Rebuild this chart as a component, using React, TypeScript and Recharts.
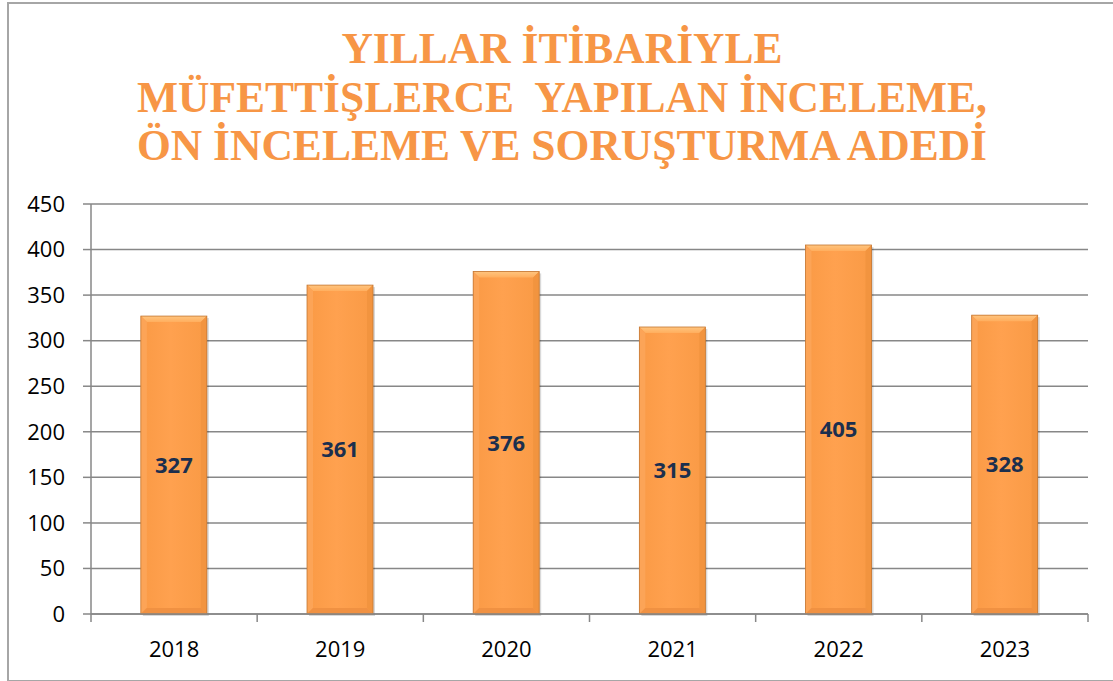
import React from "react";
import { BarChart, Bar, XAxis, YAxis, CartesianGrid, LabelList } from "recharts";

const years = ["2018", "2019", "2020", "2021", "2022", "2023"];
const counts = [327, 361, 376, 315, 405, 328];
const yTicks = [0, 50, 100, 150, 200, 250, 300, 350, 400, 450];
const titleLines = [
  "YILLAR İTİBARİYLE",
  "MÜFETTİŞLERCE  YAPILAN İNCELEME,",
  "ÖN İNCELEME VE SORUŞTURMA ADEDİ",
];

const data = years.map((y, i) => ({ year: y, value: counts[i] }));

const W = 1113;
const H = 681;
const PLOT_LEFT = 91;
const PLOT_RIGHT = 25;
const STEP = (W - PLOT_LEFT - PLOT_RIGHT) / years.length;
const TICK_FONT = "'Open Sans', 'Noto Sans', sans-serif";

function BevelBar(props: any) {
  const { x, y, width, height } = props;
  if (!height || height <= 0) return null;
  const b = 6;
  return (
    <g>
      <rect x={x + 2} y={y + 2} width={width} height={height} fill="#000" opacity={0.15} />
      <rect x={x} y={y} width={width} height={height} fill="url(#barBody)" />
      {/* top bevel */}
      <polygon
        points={`${x},${y} ${x + width},${y} ${x + width - b},${y + b} ${x + b},${y + b}`}
        fill="url(#barTop)"
      />
      {/* left bevel */}
      <polygon
        points={`${x},${y} ${x + b},${y + b} ${x + b},${y + height - b} ${x},${y + height}`}
        fill="#FCA457"
      />
      {/* right bevel */}
      <polygon
        points={`${x + width},${y} ${x + width - b},${y + b} ${x + width - b},${y + height - b} ${x + width},${y + height}`}
        fill="#F2943F"
      />
      {/* bottom bevel */}
      <polygon
        points={`${x},${y + height} ${x + b},${y + height - b} ${x + width - b},${y + height - b} ${x + width},${y + height}`}
        fill="#F09142"
      />
      <rect x={x} y={y} width={width} height={height} fill="none" stroke="#C47733" strokeWidth={0.8} />
    </g>
  );
}

function YearTick(props: any) {
  const { x, y, payload, index } = props;
  const left = x - STEP / 2;
  return (
    <g>
      <line x1={left} y1={y} x2={left} y2={y + 8} stroke="#878787" strokeWidth={1.5} />
      {index === years.length - 1 && (
        <line x1={x + STEP / 2} y1={y} x2={x + STEP / 2} y2={y + 8} stroke="#878787" strokeWidth={1.5} />
      )}
      <text x={x} y={y + 43} textAnchor="middle" fill="#000" fontSize={22} fontFamily={TICK_FONT}>
        {payload.value}
      </text>
    </g>
  );
}

export default function App() {
  return (
    <div style={{ position: "absolute", left: 0, top: 0, width: W, height: H, background: "#fff", overflow: "hidden" }}>
      <div
        style={{
          position: "absolute",
          left: 7,
          top: 2,
          width: 1120,
          height: 676,
          border: "2px solid #a6a6a6",
        }}
      />
      <svg style={{ position: "absolute", left: 0, top: 0 }} width={W} height={200}>
        {titleLines.map((t, i) => (
          <text
            key={i}
            x={562}
            y={63 + i * 48.5}
            textAnchor="middle"
            fill="#F79646"
            fontSize={43.5}
            fontWeight="bold"
            fontFamily="'Liberation Serif', 'Times New Roman', serif"
            style={{ whiteSpace: "pre" }}
          >
            {t}
          </text>
        ))}
      </svg>
      <div style={{ position: "absolute", left: 0, top: 0 }}>
        <BarChart
          width={W}
          height={H}
          data={data}
          margin={{ top: 204, right: PLOT_RIGHT, bottom: 17, left: 0 }}
          barCategoryGap="30%"
        >
          <defs>
            <linearGradient id="barBody" x1="0" y1="0" x2="1" y2="0">
              <stop offset="0%" stopColor="#FA9A45" />
              <stop offset="45%" stopColor="#FFA14F" />
              <stop offset="100%" stopColor="#F99A45" />
            </linearGradient>
            <linearGradient id="barTop" x1="0" y1="0" x2="0" y2="1">
              <stop offset="0%" stopColor="#FFC57F" />
              <stop offset="100%" stopColor="#FFAE5E" />
            </linearGradient>
          </defs>
          <CartesianGrid vertical={false} stroke="#878787" strokeWidth={1.5} />
          <XAxis
            dataKey="year"
            height={50}
            axisLine={{ stroke: "#878787", strokeWidth: 1.5 }}
            tickLine={false}
            tickSize={0}
            tickMargin={0}
            tick={<YearTick />}
            interval={0}
          />
          <YAxis
            width={PLOT_LEFT}
            domain={[0, 450]}
            ticks={yTicks}
            interval={0}
            axisLine={{ stroke: "#878787", strokeWidth: 1.5 }}
            tickLine={{ stroke: "#878787", strokeWidth: 1.5 }}
            tickSize={8}
            tickMargin={18}
            tick={{ fill: "#000", fontSize: 22, fontFamily: TICK_FONT }}
          />
          <Bar dataKey="value" shape={<BevelBar />} isAnimationActive={false}>
            <LabelList
              dataKey="value"
              position="center"
              fill="#1B2F4E"
              fontSize={22}
              fontWeight="bold"
              fontFamily={TICK_FONT}
            />
          </Bar>
        </BarChart>
      </div>
    </div>
  );
}
